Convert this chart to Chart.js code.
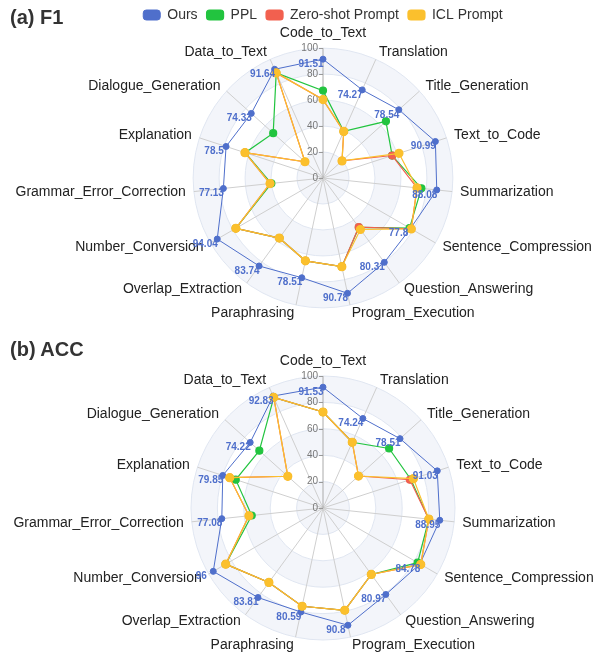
<!DOCTYPE html>
<html>
<head>
<meta charset="utf-8">
<title>F1 / ACC radar</title>
<script src="https://cdn.jsdelivr.net/npm/chart.js@4.4.1/dist/chart.umd.min.js"></script>
<style>
    html, body { margin: 0; padding: 0; background: #fff; overflow: hidden; }
    body { width: 606px; height: 659px; position: relative; }
    canvas { position: absolute; left: 0; }
    #f1_chart { top: -1px; }
    #acc_chart { top: 330px; }
    .panel-title {
        position: absolute;
        left: 10px;
        font: bold 20px "Liberation Sans", Arial, sans-serif;
        color: #333;
    }
</style>
</head>
<body>
<canvas id="f1_chart" width="646" height="331"></canvas>
<canvas id="acc_chart" width="646" height="329"></canvas>
<div class="panel-title" style="top:6px">(a) F1</div>
<div class="panel-title" style="top:338px">(b) ACC</div>

<script>
// ---------------- DATA -----------------
const categories = [
    "Code_to_Text", "Translation", "Title_Generation", "Text_to_Code",
    "Summarization", "Sentence_Compression", "Question_Answering",
    "Program_Execution", "Paraphrasing", "Overlap_Extraction",
    "Number_Conversion", "Grammar_Error_Correction", "Explanation",
    "Dialogue_Generation", "Data_to_Text",
];
const seriesNames = ["Ours", "PPL", "Zero-shot Prompt", "ICL Prompt"];
const tickValues = [0, 20, 40, 60, 80, 100];

// (a) F1
const f1Ours = [91.51, 74.27, 78.54, 90.99, 88.08, 77.8, 80.31, 90.78, 78.51, 83.74, 94.04, 77.13, 78.5, 74.33, 91.64];
const f1Ppl = [67.3, 39.3, 65.2, 56, 76.2, 77, 47, 69.8, 65.2, 57.2, 77.5, 40, 63, 51.6, 88.6];
const f1ZeroShot = [60.4, 39.3, 19.7, 56, 72.8, 78.5, 46.8, 69.8, 65.2, 57.2, 77.5, 41, 63.2, 18.7, 88.6];
const f1Icl = [60.4, 39.3, 19.7, 61.5, 72.8, 78.5, 49, 69.8, 65.2, 57.2, 77.5, 41, 63.2, 18.7, 88.6];

// (b) ACC
const accOurs = [91.53, 74.24, 78.51, 91.03, 88.95, 84.78, 80.97, 90.8, 80.59, 83.81, 96, 77.08, 79.85, 74.22, 92.83];
const accPpl = [72.7, 54.5, 67.4, 70, 80.6, 82.8, 62.2, 79.2, 76.1, 69.7, 85.1, 54.3, 69.5, 64.9, 91.7];
const accZeroShot = [72.7, 54.5, 36.2, 69.2, 80.6, 85.5, 62.2, 79.2, 76.1, 69.7, 85.1, 56.4, 74.3, 35.9, 91.7];
const accIcl = [72.7, 54.5, 36.2, 72, 80.6, 85.5, 62.2, 79.2, 76.1, 69.7, 85.1, 56.4, 74.3, 35.9, 91.7];

// ---------------- STYLE -----------------
const colors = ["#4f6fcb", "#22c43f", "#f2604f", "#fbc02d"];
const FONT = "'Liberation Sans', Arial, sans-serif";
const BAND_COLOR = "#f3f5fa";
const RADIUS = 132;

// ----------- PLUGINS -------------
// alternating split areas between the rings
const bandsPlugin = {
    id: "bands",
    beforeDraw(chart) {
        const scale = chart.scales.r;
        const ctx = chart.ctx;
        const ticks = scale.ticks;
        ctx.save();
        for (let i = ticks.length - 1; i > 0; i--) {
            if (i % 2 === 0) continue;
            const outer = scale.getDistanceFromCenterForValue(ticks[i].value);
            const inner = scale.getDistanceFromCenterForValue(ticks[i - 1].value);
            ctx.beginPath();
            ctx.arc(scale.xCenter, scale.yCenter, outer, 0, Math.PI * 2);
            ctx.arc(scale.xCenter, scale.yCenter, inner, 0, Math.PI * 2, true);
            ctx.fillStyle = BAND_COLOR;
            ctx.fill();
        }
        ctx.restore();
    },
};

// tick labels to the left of the first axis
const tickLabelPlugin = {
    id: "tickLabels",
    beforeDatasetsDraw(chart) {
        const scale = chart.scales.r;
        const ctx = chart.ctx;
        ctx.save();
        ctx.font = "10px " + FONT;
        ctx.fillStyle = "#777";
        ctx.strokeStyle = "#999";
        ctx.lineWidth = 1;
        ctx.textAlign = "right";
        ctx.textBaseline = "middle";
        scale.ticks.forEach((tick) => {
            const y = scale.yCenter - scale.getDistanceFromCenterForValue(tick.value);
            ctx.beginPath();
            ctx.moveTo(scale.xCenter - 4, Math.round(y) + 0.5);
            ctx.lineTo(scale.xCenter, Math.round(y) + 0.5);
            ctx.stroke();
            ctx.fillText(tick.label, scale.xCenter - 5, y);
        });
        ctx.restore();
    },
};

// value labels for "Ours"
const valueLabelPlugin = {
    id: "valueLabels",
    afterDatasetsDraw(chart) {
        const ctx = chart.ctx;
        const meta = chart.getDatasetMeta(0);
        const values = chart.data.datasets[0].data;
        ctx.save();
        ctx.font = "bold 10px " + FONT;
        ctx.fillStyle = colors[0];
        ctx.textAlign = "center";
        ctx.textBaseline = "middle";
        meta.data.forEach((pt, i) => {
            ctx.fillText(String(values[i]), pt.x - 12, pt.y + 5);
        });
        ctx.restore();
    },
};

// -------------- CHARTS --------------
const makeDataset = (idx, data) => ({
    label: seriesNames[idx],
    data,
    borderColor: colors[idx],
    backgroundColor: colors[idx],
    pointBackgroundColor: colors[idx],
    pointBorderColor: colors[idx],
    pointRadius: idx === 0 ? 3 : idx === 3 ? 4 : 3.5,
    borderWidth: idx === 0 ? 1 : 1.2,
    fill: false,
    order: 4 - idx,
});

const initRadar = (canvasId, series, center, showLegend) => {
    const ctx = document.getElementById(canvasId);
    return new Chart(ctx, {
        type: "radar",
        data: {
            labels: categories,
            datasets: series.map((data, i) => makeDataset(i, data)),
        },
        options: {
            responsive: false,
            animation: false,
            events: [],
            plugins: {
                legend: {
                    display: showLegend,
                    position: "top",
                    labels: {
                        boxWidth: 17,
                        boxHeight: 10,
                        useBorderRadius: true,
                        borderRadius: 3,
                        padding: 9,
                        color: "#333",
                        font: { size: 14, family: FONT },
                        sort: (a, b) => a.datasetIndex - b.datasetIndex,
                    },
                },
                tooltip: { enabled: false },
            },
            scales: {
                r: {
                    min: 0,
                    max: 100,
                    afterBuildTicks: (scale) => {
                        scale.ticks = tickValues.map((v) => ({ value: v }));
                    },
                    beforeFit: (scale) => {
                        scale.xCenter = center.x;
                        scale.yCenter = center.y;
                        scale.drawingArea = RADIUS;
                    },
                    ticks: { display: false },
                    grid: { circular: true, color: "#e0e6f1" },
                    angleLines: {
                        color: (c) => (c.index === 0 ? "#aaa" : "#cfcfcf"),
                    },
                    pointLabels: {
                        color: "#222",
                        font: { size: 14, family: FONT, lineHeight: 0.01 },
                        padding: (c) => (c.index === 0 ? 15 : 8),
                    },
                },
            },
        },
        plugins: [bandsPlugin, tickLabelPlugin, valueLabelPlugin],
    });
};

initRadar("f1_chart", [f1Ours, f1Ppl, f1ZeroShot, f1Icl], { x: 323, y: 178 }, true);
initRadar("acc_chart", [accOurs, accPpl, accZeroShot, accIcl], { x: 323, y: 178 }, false);
</script>
</body>
</html>
